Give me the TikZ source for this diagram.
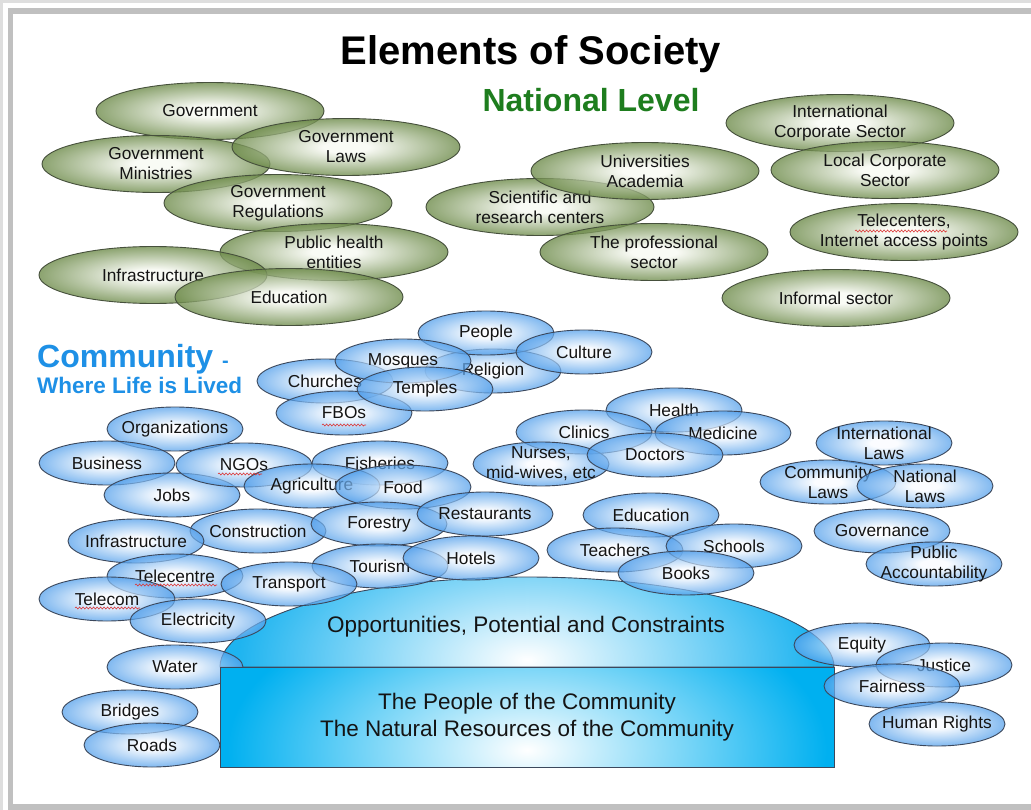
\documentclass[tikz,border=0pt]{standalone}
\usepackage{fontspec}
\setmainfont{Liberation Sans}
\usetikzlibrary{shapes.geometric,decorations.pathmorphing}
\definecolor{gin}{RGB}{248,250,243}
\definecolor{gout}{RGB}{108,138,72}
\definecolor{gline}{RGB}{70,80,60}
\definecolor{bin}{RGB}{250,252,255}
\definecolor{bout}{RGB}{80,158,235}
\definecolor{bline}{RGB}{60,72,92}
\definecolor{txt}{RGB}{20,20,20}
\definecolor{natgreen}{RGB}{30,125,30}
\definecolor{commblue}{RGB}{30,144,230}
\definecolor{boxblue}{RGB}{0,176,240}
\definecolor{domeblue}{RGB}{30,180,240}
\definecolor{squig}{RGB}{220,50,50}
\definecolor{framegray}{RGB}{192,192,192}
\definecolor{framelight}{RGB}{222,222,222}
\pgfdeclareradialshading{gsh}{\pgfpoint{0bp}{0bp}}{color(0bp)=(gin); color(5bp)=(gin); color(25bp)=(gout); color(50bp)=(gout)}
\pgfdeclareradialshading{bsh}{\pgfpoint{0bp}{0bp}}{color(0bp)=(bin); color(5bp)=(bin); color(25bp)=(bout); color(50bp)=(bout)}
\newcommand\etxt{\fontsize{17.3}{20}\selectfont}
\newcommand\gel[3]{\node[gell, label={[lbl]center:{#3}}] (#1) at (#2) {};}
\newcommand\bel[3]{\node[bell, label={[lbl]center:{#3}}] (#1) at (#2) {};}
\tikzset{
  gell/.style={ellipse, draw=gline, line width=0.9pt, shading=gsh, shade,
    fill opacity=0.78, minimum width=228, minimum height=57, inner sep=0pt},
  bell/.style={ellipse, draw=bline, line width=0.9pt, shading=bsh, shade,
    fill opacity=0.72, minimum width=136, minimum height=44, inner sep=0pt},
  lbl/.style={font=\etxt, text=txt, align=center, inner sep=0pt},
  squiggle/.style={draw=squig, line width=0.6pt, decorate,
    decoration={snake, amplitude=1pt, segment length=3.5pt}},
  boxtxt/.style={font=\fontsize{22.5}{27}\selectfont, text=txt, align=center}
}
\begin{document}
\begin{tikzpicture}[x=1pt,y=-1pt]
\useasboundingbox (0,0) rectangle (1031,810);
\fill[white] (0,0) rectangle (1031,810);
% frame
\fill[framelight] (0,0) rectangle (1031,3);
\fill[framelight] (0,0) rectangle (3,810);
\fill[framegray] (8,8) rectangle (1031,14);
\fill[framegray] (8,8) rectangle (13,810);
\fill[framegray] (8,804) rectangle (1031,810);

% titles
\node[font=\fontsize{40}{48}\selectfont\bfseries, text=black, anchor=base, inner sep=0pt] (title) at (531,65) {Elements of Society};
\node[font=\fontsize{32}{38}\selectfont\bfseries, text=natgreen, anchor=base, inner sep=0pt] (natlevel) at (591,112) {National Level};
\node[font=\fontsize{32}{38}\selectfont\bfseries, text=commblue, anchor=base west, inner sep=0pt] (comm) at (37,367) {Community {\fontsize{20}{24}\selectfont -}};
\node[font=\fontsize{22.5}{27}\selectfont\bfseries, text=commblue, anchor=base west, inner sep=0pt] (where) at (37,393) {Where Life is Lived};

% national level
\gel{gov}{210,111}{Government}
\gel{govmin}{156,164}{Government\\Ministries}
\gel{govlaws}{346,147}{Government\\Laws}
\gel{govreg}{278,203}{Government\\Regulations}
\gel{pubhealth}{334,252}{Public health\\entities}
\gel{ginfra}{153,275}{Infrastructure}
\gel{gedu}{289,297}{Education}
\gel{sci}{540,207}{Scientific and\\research centers}
\gel{univ}{645,171}{Universities\\Academia}
\gel{prof}{654,252}{The professional\\sector}
\gel{intcorp}{840,123}{International\\Corporate Sector}
\gel{loccorp}{885,170}{Local Corporate\\Sector}
\gel{telecenters}{904,232}{Telecenters,\\Internet access points}
\gel{informal}{836,298}{Informal sector}

% dome
\coordinate (bl) at (220,667);
\coordinate (br) at (834,667);
\path[draw=bline, line width=0.9pt, path picture={
    \fill[domeblue] (path picture bounding box.south west) rectangle (path picture bounding box.north east);
    \shade[inner color=white, outer color=domeblue] (527,660) ellipse [x radius=290pt, y radius=150pt];}]
  (bl) arc[start angle=180, end angle=0, x radius=307pt, y radius=90pt] -- (br) -- cycle;
\node[boxtxt] (opp) at (526,627) {Opportunities, Potential and Constraints};

% community
\bel{religion}{493,371}{Religion}
\bel{people}{486,333}{People}
\bel{culture}{584,352}{Culture}
\bel{churches}{325,381}{Churches}
\bel{fbos}{344,413}{FBOs}
\bel{mosques}{403,361}{Mosques}
\bel{temples}{425,389}{Temples}

\bel{organizations}{175,429}{Organizations}
\bel{business}{107,463}{Business}
\bel{jobs}{172,495}{Jobs}
\bel{ngos}{244,465}{NGOs}
\bel{fisheries}{380,463}{Fisheries}
\bel{agri}{312,486}{Agriculture}
\bel{food}{403,487}{Food}
\bel{construction}{258,531}{Construction}
\bel{binfra}{136,541}{Infrastructure}
\bel{forestry}{379,524}{Forestry}
\bel{restaurants}{485,514}{Restaurants}
\bel{tourism}{380,566}{Tourism}
\bel{hotels}{471,558}{Hotels}
\bel{telecentre}{175,576}{Telecentre}
\bel{telecom}{107,599}{Telecom}
\bel{transport}{289,584}{Transport}
\bel{electricity}{198,621}{Electricity}
\bel{water}{175,667}{Water}
\bel{bridges}{130,712}{Bridges}
\bel{roads}{152,745}{Roads}

\bel{health}{674,410}{Health}
\bel{clinics}{584,432}{Clinics}
\bel{medicine}{723,433}{Medicine}
\bel{nurses}{541,464}{Nurses,\\mid-wives, etc}
\bel{doctors}{655,455}{Doctors}

\bel{bedu}{651,515}{Education}
\bel{teachers}{615,550}{Teachers}
\bel{schools}{734,546}{Schools}
\bel{books}{686,573}{Books}

\bel{intlaws}{884,443}{International\\Laws}
\bel{commlaws}{828,482}{Community\\Laws}
\bel{natlaws}{925,486}{National\\Laws}
\bel{governance}{882,531}{Governance}
\bel{pubacc}{934,564}{Public\\Accountability}

% base box
\node[rectangle, draw=bline, line width=0.9pt, minimum width=614, minimum height=100, inner sep=0pt,
  path picture={
    \fill[boxblue] (path picture bounding box.south west) rectangle (path picture bounding box.north east);
    \shade[inner color=white, outer color=boxblue] ([yshift=-33pt]path picture bounding box.center) ellipse [x radius=300pt, y radius=160pt];},
  boxtxt] (base) at (527,717) {The People of the Community\\The Natural Resources of the Community};

\bel{equity}{862,645}{Equity}
\bel{justice}{944,665}{Justice}
\bel{fairness}{892,686}{Fairness}
\bel{humanrights}{937,724}{Human Rights}

% spell-check marks
\path[squiggle] (855,231) -- (947,231);
\path[squiggle] (322,425) -- (366,425);
\path[squiggle] (218,474) -- (262,474);
\path[squiggle] (135,585) -- (217,585);
\path[squiggle] (75,608) -- (140,608);
\end{tikzpicture}
\end{document}
